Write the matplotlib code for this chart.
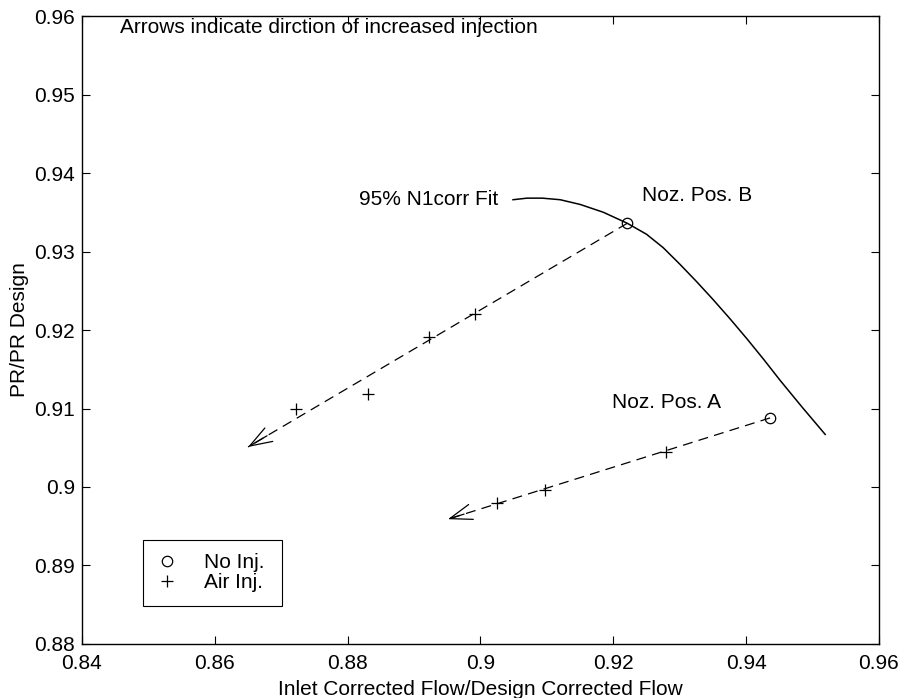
import numpy as np
import matplotlib
matplotlib.use('Agg')
import matplotlib.pyplot as plt
from matplotlib.lines import Line2D

plt.rcParams['font.family'] = ['Liberation Sans', 'DejaVu Sans']
plt.rcParams['font.size'] = 15

# Noz. Pos. B : no injection point, air injection points, arrow tip
b_noinj = [0.9221, 0.9336]
b_air_x = [0.8992, 0.8922, 0.8831, 0.8722]
b_air_y = [0.9220, 0.9191, 0.9118, 0.9099]
b_tip = [0.8650, 0.9051]

# Noz. Pos. A
a_noinj = [0.9436, 0.9088]
a_air_x = [0.9279, 0.9097, 0.9025]
a_air_y = [0.9045, 0.8996, 0.8980]
a_tip = [0.8951, 0.8959]

# 95% N1corr fit curve
fit_x = [0.9049, 0.9070, 0.9093, 0.9120, 0.9150, 0.9185, 0.9221, 0.9250, 0.9275,
         0.9300, 0.9325, 0.9350, 0.9375, 0.9401, 0.9426, 0.9451, 0.9485, 0.9519]
fit_y = [0.9366, 0.9368, 0.9368, 0.9366, 0.9360, 0.9350, 0.9336, 0.9322, 0.9305,
         0.9284, 0.9262, 0.9239, 0.9215, 0.9189, 0.9163, 0.9136, 0.9101, 0.9067]

fig = plt.figure(figsize=(9.03, 6.98), dpi=100)
ax = fig.add_axes([0.0908, 0.0774, 0.8826, 0.8996])

ax.plot(fit_x, fit_y, color='black', lw=1.1)

for noinj, ax_x, ax_y, tip in [(b_noinj, b_air_x, b_air_y, b_tip),
                               (a_noinj, a_air_x, a_air_y, a_tip)]:
    # dashed trend line from the no-injection point to the arrow tip
    ax.plot([noinj[0], tip[0]], [noinj[1], tip[1]], color='black', lw=0.9, dashes=(8, 5))
    ax.plot(noinj[0], noinj[1], 'o', mfc='none', mec='black', ms=7.5, mew=0.9)
    ax.plot(ax_x, ax_y, '+', color='black', ms=8, mew=0.9)
    back = [tip[0] + 0.05 * (noinj[0] - tip[0]), tip[1] + 0.05 * (noinj[1] - tip[1])]
    ax.annotate('', xy=tip, xytext=back,
                arrowprops=dict(arrowstyle='->,head_length=0.8,head_width=0.28',
                                color='black', lw=0.9, mutation_scale=20,
                                shrinkA=0, shrinkB=0))

ax.text(0.8457, 0.9585, 'Arrows indicate dirction of increased injection',
        ha='left', va='center')
ax.text(0.9026, 0.9366, '95% N1corr Fit', ha='right', va='center')
ax.text(0.9243, 0.9372, 'Noz. Pos. B', ha='left', va='center')
ax.text(0.9198, 0.9108, 'Noz. Pos. A', ha='left', va='center')

ax.set_xlim(0.84, 0.96)
ax.set_ylim(0.88, 0.96)
ax.set_xticks(np.arange(0.84, 0.9601, 0.02))
ax.set_xticklabels(['0.84', '0.86', '0.88', '0.9', '0.92', '0.94', '0.96'])
ax.set_yticks(np.arange(0.88, 0.9601, 0.01))
ax.set_yticklabels(['0.88', '0.89', '0.9', '0.91', '0.92', '0.93', '0.94', '0.95', '0.96'])
ax.tick_params(direction='in', top=True, right=True, length=6, width=0.8, pad=7)
ax.tick_params(axis='y', pad=5)
for s in ax.spines.values():
    s.set_linewidth(1.0)

ax.set_xlabel('Inlet Corrected Flow/Design Corrected Flow', labelpad=5)
ax.set_ylabel('PR/PR Design', labelpad=4)

handles = [Line2D([], [], ls='none', marker='o', mfc='none', mec='black', ms=7.5, mew=0.9),
           Line2D([], [], ls='none', marker='+', color='black', ms=8, mew=0.9)]
leg = ax.legend(handles, ['No Inj.', 'Air Inj.'], loc='lower left',
                bbox_to_anchor=(0.0765, 0.0605, 0.1744, 0.1), mode='expand',
                borderaxespad=0, fancybox=False,
                edgecolor='black', framealpha=1, handlelength=1.0, handletextpad=1.3,
                labelspacing=0.05, borderpad=0.65)
leg.get_frame().set_linewidth(0.8)

fig.savefig('out.png', dpi=100)
